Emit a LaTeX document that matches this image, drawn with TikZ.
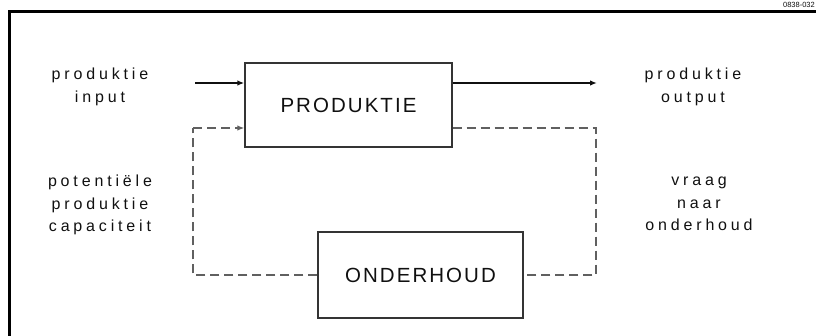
\documentclass[tikz,border=0pt]{standalone}
\usepackage{fontspec}
\setmainfont{Liberation Sans}
\newfontfamily\lblfont[LetterSpace=24]{Liberation Sans}
\newfontfamily\boxfont[LetterSpace=10]{Liberation Sans}
\usetikzlibrary{arrows.meta}
\definecolor{ink}{HTML}{101010}
\definecolor{dashgray}{HTML}{606060}
\tikzset{
  blockbox/.style={draw=ink!85, line width=1.4pt, minimum width=207pt, minimum height=84pt, inner sep=0pt,
    font=\boxfont\fontsize{20.5pt}{22pt}\selectfont, text=ink},
  sidelabel/.style={align=center, font=\lblfont\fontsize{16pt}{22.5pt}\selectfont, text=ink, inner sep=0pt},
  flowline/.style={draw=ink, line width=1.4pt, -{Latex[length=7pt,width=5.5pt]}},
  fbline/.style={draw=dashgray, line width=1.3pt, dash pattern=on 9pt off 5pt},
  fbarrow/.style={fbline, -{Latex[length=7pt,width=5.5pt]}},
  framestyle/.style={draw=black, line width=3pt}
}
\begin{document}
\begin{tikzpicture}[x=1pt,y=-1pt]
\useasboundingbox (0,0) rectangle (816,336);
% frame
\coordinate (fTR) at (830,12);
\coordinate (fTL) at (9,12);
\coordinate (fBL) at (9,350);
\draw[framestyle] (fTR) -- (fTL) -- (fBL);
\node[anchor=east, inner sep=0pt, font=\fontsize{7.5pt}{8pt}\selectfont, text=ink] (code) at (815,4.5) {0838-032};
% boxes
\node[blockbox] (prod) at (348.5,105) {PRODUKTIE};
\node[blockbox, minimum width=205pt, minimum height=86pt] (ond) at (420.5,275) {ONDERHOUD};
% labels
\node[sidelabel] (lin) at (100,87) {produktie\\input};
\node[sidelabel] (lcap) at (100,205) {potentiële\\produktie\\capaciteit};
\node[sidelabel] (lout) at (693,87) {produktie\\output};
\node[sidelabel] (lvr) at (699,204) {vraag\\naar\\onderhoud};
% solid flow
\coordinate (inL) at (195,83);
\coordinate (outR) at (597,83);
\draw[flowline] (inL) -- (inL -| prod.west);
\draw[flowline] (outR -| prod.east) -- (outR);
% feedback dashed
\coordinate (cL) at (193,128);
\coordinate (cR) at (596,128);
\draw[fbline] (ond.west) -| (cL);
\draw[fbarrow] (cL) -- (cL -| prod.west);
\draw[fbline] (cR -| prod.east) -- (cR) |- (ond.east);
\end{tikzpicture}
\end{document}
